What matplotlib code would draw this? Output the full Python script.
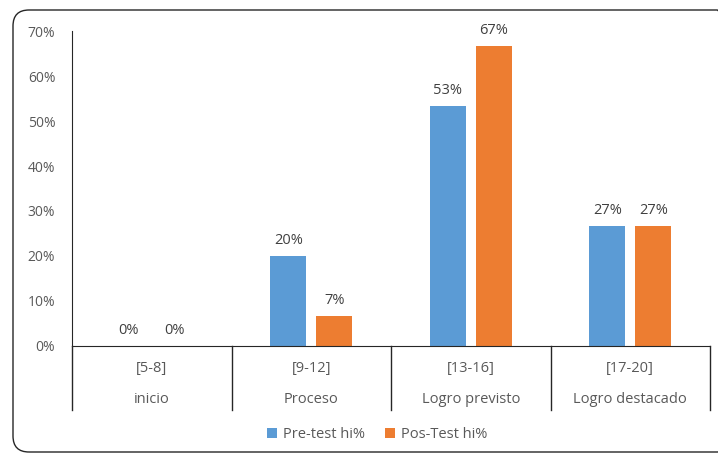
import matplotlib
matplotlib.use('Agg')
import matplotlib.pyplot as plt
from matplotlib.patches import FancyBboxPatch
import numpy as np

levels = ['[5-8]', '[9-12]', '[13-16]', '[17-20]']
level_names = ['inicio', 'Proceso', 'Logro previsto', 'Logro destacado']
pre_test = [0.0, 20.0, 53.33, 26.67]
pos_test = [0.0, 6.67, 66.67, 26.67]
series_names = ['Pre-test hi%', 'Pos-Test hi%']

BLUE = '#5B9BD5'
ORANGE = '#ED7D31'
TEXT = '#595959'
LABEL = '#404040'

plt.rcParams['font.family'] = ['Open Sans', 'DejaVu Sans']

fig = plt.figure(figsize=(7.18, 4.54), dpi=100)
ax = fig.add_axes([0.1003, 0.2379, 0.8886, 0.6938])

x = np.arange(len(levels))
w = 0.225
off = 0.144
b1 = ax.bar(x - off, pre_test, w, color=BLUE, label=series_names[0])
b2 = ax.bar(x + off, pos_test, w, color=ORANGE, label=series_names[1])

for bars, vals in ((b1, pre_test), (b2, pos_test)):
    for rect, v in zip(bars, vals):
        ax.annotate(f'{v:.0f}%', (rect.get_x() + rect.get_width() / 2, v),
                    xytext=(0, 6), textcoords='offset points',
                    ha='center', va='bottom', fontsize=10.5, color=LABEL)

ax.set_xlim(-0.5, len(levels) - 0.5)
ax.set_ylim(0, 70)
ax.set_yticks(range(0, 71, 10))
ax.set_yticklabels([f'{t}%' for t in range(0, 71, 10)], fontsize=10, color=TEXT)
ax.tick_params(axis='y', length=0, pad=12)
ax.set_xticks([])

for s in ('top', 'right'):
    ax.spines[s].set_visible(False)
ax.spines['left'].set_color('#262626')
ax.spines['bottom'].set_color('#262626')

# two-row category axis with separators
trans = ax.get_xaxis_transform()
for b in np.arange(-0.5, len(levels), 1.0):
    ax.plot([b, b], [0, -0.203], transform=trans, color='#262626',
            lw=1.0, clip_on=False)
for i in x:
    ax.text(i, -0.07, levels[i], transform=trans, ha='center', va='center',
            fontsize=10.5, color=TEXT)
    ax.text(i, -0.171, level_names[i], transform=trans, ha='center', va='center',
            fontsize=10.5, color=TEXT)

fig.legend(handles=[b1, b2], loc='center', bbox_to_anchor=(0.525, 0.042),
           ncol=2, frameon=False, fontsize=10.5, handlelength=0.7,
           handleheight=0.7, handletextpad=0.4, columnspacing=1.4,
           labelcolor=TEXT)

# rounded chart frame, in pixels from the lower-left corner
frame = FancyBboxPatch((13, 2), 720, 442, boxstyle='round,pad=0,rounding_size=16',
                       transform=None, fill=False, ec='#262626', lw=1.0)
fig.patches.append(frame)

fig.savefig('out.png', dpi=100)
